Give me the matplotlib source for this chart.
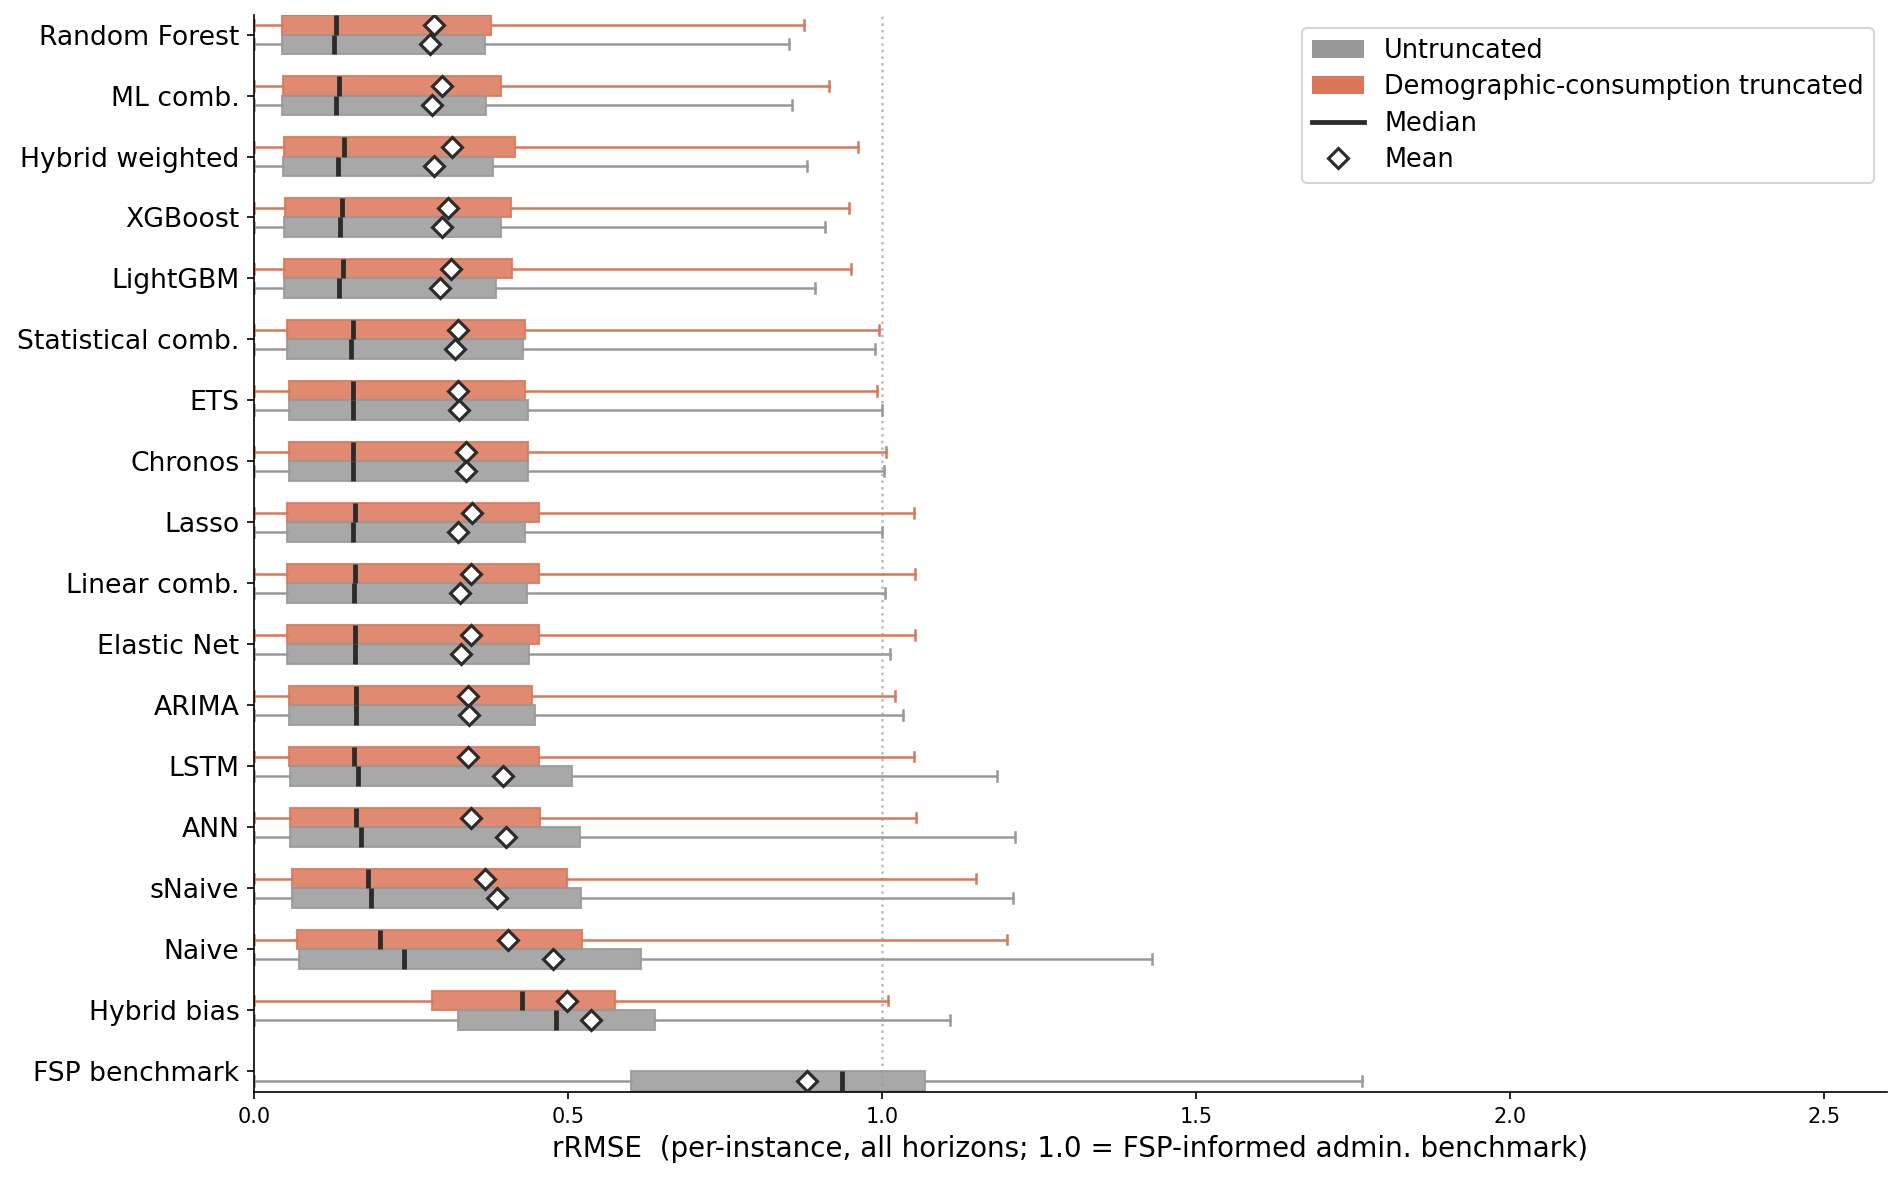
import matplotlib
matplotlib.use("Agg")
import matplotlib.pyplot as plt
from matplotlib.patches import Patch
from matplotlib.lines import Line2D

categories = ["Random Forest", "ML comb.", "Hybrid weighted", "XGBoost", "LightGBM",
              "Statistical comb.", "ETS", "Chronos", "Lasso", "Linear comb.",
              "Elastic Net", "ARIMA", "LSTM", "ANN", "sNaive", "Naive",
              "Hybrid bias", "FSP benchmark"]

# Demographic-consumption truncated (no value for FSP benchmark)
tr_q1 = [0.044, 0.046, 0.047, 0.049, 0.047, 0.053, 0.056, 0.055, 0.053, 0.053, 0.053, 0.056, 0.055, 0.057, 0.061, 0.069, 0.284]
tr_med = [0.130, 0.135, 0.143, 0.140, 0.142, 0.158, 0.157, 0.157, 0.161, 0.161, 0.161, 0.162, 0.159, 0.162, 0.181, 0.200, 0.427]
tr_q3 = [0.378, 0.394, 0.415, 0.409, 0.410, 0.432, 0.432, 0.437, 0.453, 0.453, 0.454, 0.443, 0.454, 0.456, 0.498, 0.523, 0.575]
tr_mean = [0.286, 0.300, 0.315, 0.309, 0.313, 0.325, 0.324, 0.338, 0.347, 0.346, 0.346, 0.340, 0.341, 0.346, 0.368, 0.404, 0.498]
tr_lo = [0.0] * 17
tr_hi = [0.876, 0.916, 0.962, 0.947, 0.951, 0.995, 0.992, 1.006, 1.051, 1.053, 1.053, 1.021, 1.051, 1.054, 1.150, 1.199, 1.010]

# Untruncated
un_q1 = [0.044, 0.044, 0.046, 0.047, 0.047, 0.053, 0.056, 0.055, 0.053, 0.053, 0.053, 0.056, 0.057, 0.057, 0.061, 0.071, 0.324, 0.601]
un_med = [0.128, 0.131, 0.133, 0.137, 0.136, 0.154, 0.157, 0.157, 0.157, 0.159, 0.161, 0.162, 0.165, 0.171, 0.186, 0.238, 0.481, 0.937]
un_q3 = [0.368, 0.370, 0.380, 0.394, 0.386, 0.429, 0.436, 0.436, 0.432, 0.434, 0.438, 0.448, 0.507, 0.519, 0.521, 0.616, 0.639, 1.068]
un_mean = [0.280, 0.284, 0.287, 0.300, 0.296, 0.320, 0.326, 0.337, 0.325, 0.328, 0.330, 0.343, 0.397, 0.401, 0.387, 0.476, 0.536, 0.880]
un_lo = [0.0] * 18
un_hi = [0.852, 0.857, 0.881, 0.909, 0.893, 0.989, 1.000, 1.003, 1.000, 1.005, 1.013, 1.033, 1.183, 1.212, 1.208, 1.430, 1.109, 1.764]

C_UN = "#999999"
C_TR = "#DB7658"
C_MED = "#2b2b2b"

fig = plt.figure(figsize=(1903 / 150, 1183 / 150), dpi=150)
ax = fig.add_axes([0.1335, 0.0769, 0.858, 0.9104])

off = 0.16
w = 0.32


def stats(lo, q1, med, q3, hi, mean):
    return [dict(whislo=a, q1=b, med=c, q3=d, whishi=e, mean=f, fliers=[])
            for a, b, c, d, e, f in zip(lo, q1, med, q3, hi, mean)]


def draw(st, positions, color):
    ax.bxp(st, positions=positions, widths=w, vert=False, patch_artist=True,
           showmeans=True, showfliers=False,
           boxprops=dict(facecolor=color, edgecolor=color, alpha=0.85, linewidth=1.0),
           whiskerprops=dict(color=color, linewidth=1.2),
           capprops=dict(color=color, linewidth=1.2),
           medianprops=dict(color=C_MED, linewidth=2.3, zorder=4),
           meanprops=dict(marker="D", markerfacecolor="white", markeredgecolor=C_MED,
                          markersize=6.5, markeredgewidth=1.5, zorder=5),
           manage_ticks=False)


n = len(categories)
draw(stats(tr_lo, tr_q1, tr_med, tr_q3, tr_hi, tr_mean), [i - off for i in range(len(tr_q1))], C_TR)
draw(stats(un_lo, un_q1, un_med, un_q3, un_hi, un_mean), [i + off for i in range(n)], C_UN)

ax.axvline(1.0, color="#bbbbbb", linestyle=":", linewidth=1.2, zorder=0)

ax.set_yticks(range(n))
ax.set_yticklabels(categories, fontsize=12.8)
ax.set_ylim(n - 1 + 0.34, -0.32)
ax.set_xlim(0, 2.6)
ax.tick_params(axis="x", labelsize=10)
ax.set_xlabel("rRMSE  (per-instance, all horizons; 1.0 = FSP-informed admin. benchmark)", fontsize=13.3)
ax.spines["top"].set_visible(False)
ax.spines["right"].set_visible(False)

handles = [Patch(facecolor=C_UN, label="Untruncated"),
           Patch(facecolor=C_TR, label="Demographic-consumption truncated"),
           Line2D([0], [0], color=C_MED, linewidth=2.3, label="Median"),
           Line2D([0], [0], marker="D", linestyle="none", markerfacecolor="white",
                  markeredgecolor=C_MED, markersize=6.5, markeredgewidth=1.5, label="Mean")]
ax.legend(handles=handles, loc="upper right", fontsize=12.3, labelspacing=0.4)

fig.savefig("out.png", dpi=150)
